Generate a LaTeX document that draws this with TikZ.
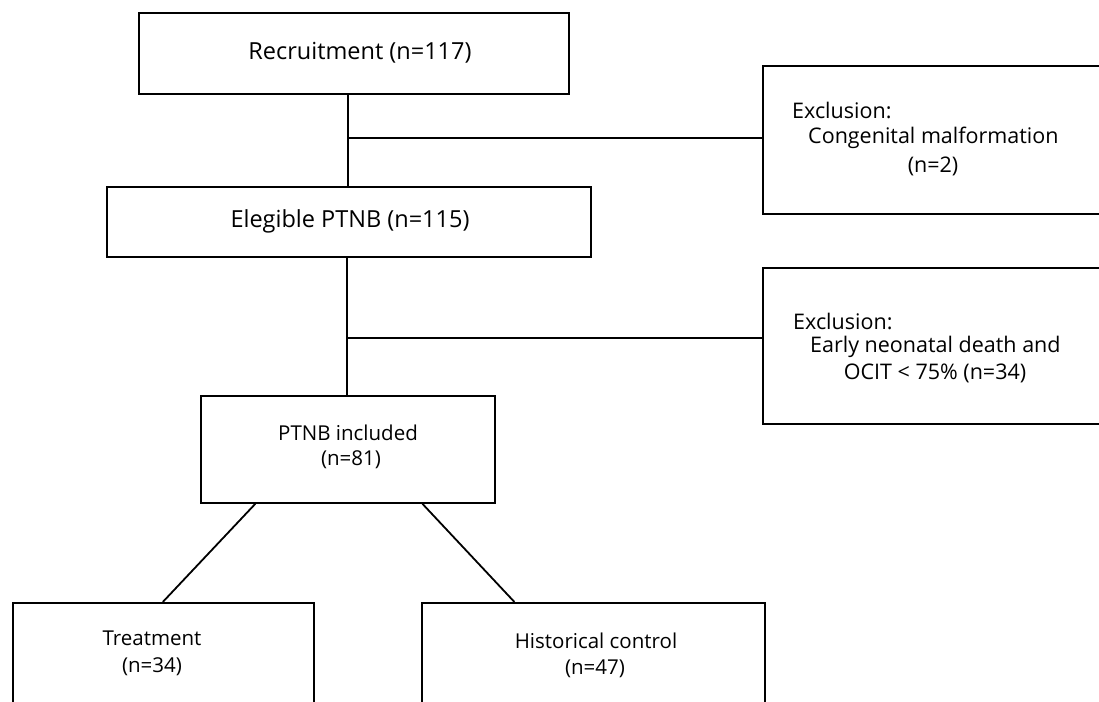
\documentclass[tikz,border=0pt]{standalone}
\usepackage{fontspec}
\setmainfont{Open Sans}
\usetikzlibrary{calc}
\begin{document}
\begin{tikzpicture}[x=1pt,y=-1pt,
  box/.style={draw, line width=1.8pt, rectangle, inner sep=0pt, anchor=north west},
  conn/.style={line width=1.8pt},
  bigtxt/.style={inner sep=0pt, font=\fontsize{23.5}{27}\selectfont},
  extxt/.style={inner sep=0pt, font=\fontsize{21.5}{25}\selectfont},
  smtxt/.style={inner sep=0pt, font=\fontsize{20.5}{24}\selectfont}]
\useasboundingbox (0,0) rectangle (1099,701);
\clip (0,0) rectangle (1099,701);
% boxes
\node[box, minimum width=430pt, minimum height=81pt] (rec) at (138,12) {};
\node[box, minimum width=484pt, minimum height=70pt] (eleg) at (106,186) {};
\node[box, minimum width=360pt, minimum height=148pt] (ex1) at (762,65) {};
\node[box, minimum width=360pt, minimum height=156pt] (ex2) at (762,267) {};
\node[box, minimum width=294pt, minimum height=107pt] (inc) at (200,395) {};
\node[box, minimum width=301pt, minimum height=130pt] (treat) at (12,602) {};
\node[box, minimum width=343pt, minimum height=130pt] (hist) at (421,602) {};
% texts
\node[bigtxt] (trec) at (360,53) {Recruitment (n=117)};
\node[bigtxt] (teleg) at (350,221) {Elegible PTNB (n=115)};
\node[extxt, anchor=west] (tex1a) at (792,110) {Exclusion:};
\node[extxt, anchor=west] (tex1b) at (808,138) {Congenital malformation};
\node[extxt] (tex1c) at (933,166) {(n=2)};
\node[extxt, anchor=west] (tex2a) at (793,321) {Exclusion:};
\node[extxt, anchor=west] (tex2b) at (810,347) {Early neonatal death and};
\node[extxt] (tex2c) at (935,373) {OCIT < 75\% (n=34)};
\node[smtxt] (tinca) at (348,433) {PTNB included};
\node[smtxt] (tincb) at (351,460) {(n=81)};
\node[smtxt] (ttra) at (152,638) {Treatment};
\node[smtxt] (ttrb) at (152,667) {(n=34)};
\node[smtxt] (thia) at (596,641) {Historical control};
\node[smtxt] (thib) at (595,669) {(n=47)};
% connectors
\coordinate (j1) at (348,138);
\coordinate (j2) at (347,338);
\draw[conn] (j1 |- rec.south) -- (j1 |- eleg.north);
\draw[conn] (j1) -- (j1 -| ex1.west);
\draw[conn] (j2 |- eleg.south) -- (j2 |- inc.north);
\draw[conn] (j2) -- (j2 -| ex2.west);
\draw[conn] ($(inc.south west)!0.187!(inc.south east)$) -- ($(treat.north west)!0.498!(treat.north east)$);
\draw[conn] ($(inc.south west)!0.752!(inc.south east)$) -- ($(hist.north west)!0.271!(hist.north east)$);
\end{tikzpicture}
\end{document}
